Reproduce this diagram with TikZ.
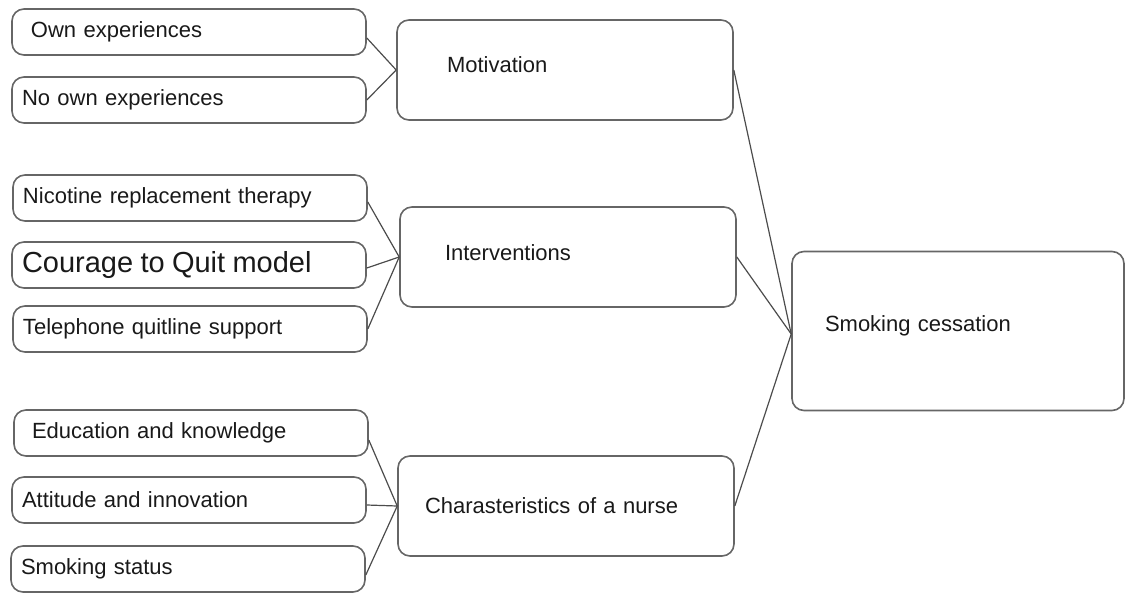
\documentclass[tikz,border=0pt]{standalone}
\usepackage{fontspec}
\setmainfont{Liberation Sans}
\begin{document}
\begin{tikzpicture}[x=1pt, y=-1pt,
  box/.style={draw=black!60, line width=1.6pt, rounded corners=12pt,
    inner ysep=0pt, align=left, text=black!90,
    font=\fontsize{22}{26}\selectfont},
  leafbox/.style={box, inner xsep=10pt, text width=334pt, minimum height=46pt},
  midbox/.style={box, inner xsep=20pt, text width=296pt, minimum height=100pt},
  link/.style={draw=black!70, line width=1.2pt}]
  \useasboundingbox (0,0) rectangle (1126,594);

  % outcome box on the right
  \node[box, inner xsep=20pt, text width=292pt, minimum height=159pt]
    (ces) at (958,331) {\hspace*{13pt}Smoking cessation\rule[-14pt]{0pt}{0pt}};

  % three middle themes
  \node[midbox] (mot) at (565,70)  {\hspace*{30pt}Motivation\rule[-10pt]{0pt}{0pt}};
  \node[midbox] (int) at (568,257) {\hspace*{25pt}Interventions\rule[-8pt]{0pt}{0pt}};
  \node[midbox] (nur) at (566,506) {\hspace*{7pt}Charasteristics of a nurse};

  % sub-themes on the left
  \node[leafbox] (own)   at (189,32)  {\hspace*{9pt}Own experiences};
  \node[leafbox] (noown) at (189,100) {No own experiences};
  \node[leafbox] (nrt)   at (190,198) {Nicotine replacement therapy};
  \node[leafbox] (ctq)   at (189,265) {{\fontsize{29}{32}\selectfont Courage to Quit model}};
  \node[leafbox] (tel)   at (190,329) {Telephone quitline support};
  \node[leafbox] (edu)   at (191,433) {\hspace*{8pt}Education and knowledge};
  \node[leafbox] (att)   at (189,500) {Attitude and innovation};
  \node[leafbox] (smk)   at (188,569) {Smoking status};

  % connectors: sub-themes to themes
  \draw[link] ([yshift=-6pt]own.east) -- (mot.west);
  \draw[link] (noown.east) -- (mot.west);
  \draw[link] ([yshift=-4pt]nrt.east) -- (int.west);
  \draw[link] ([yshift=-3pt]ctq.east) -- (int.west);
  \draw[link] (tel.east) -- (int.west);
  \draw[link] ([yshift=-7pt]edu.east) -- (nur.west);
  \draw[link] ([yshift=-5pt]att.east) -- (nur.west);
  \draw[link] ([yshift=-6pt]smk.east) -- (nur.west);

  % connectors: themes to outcome
  \draw[link] (mot.east) -- ([yshift=-3pt]ces.west);
  \draw[link] (int.east) -- ([yshift=-3pt]ces.west);
  \draw[link] (nur.east) -- ([yshift=-3pt]ces.west);
\end{tikzpicture}
\end{document}
